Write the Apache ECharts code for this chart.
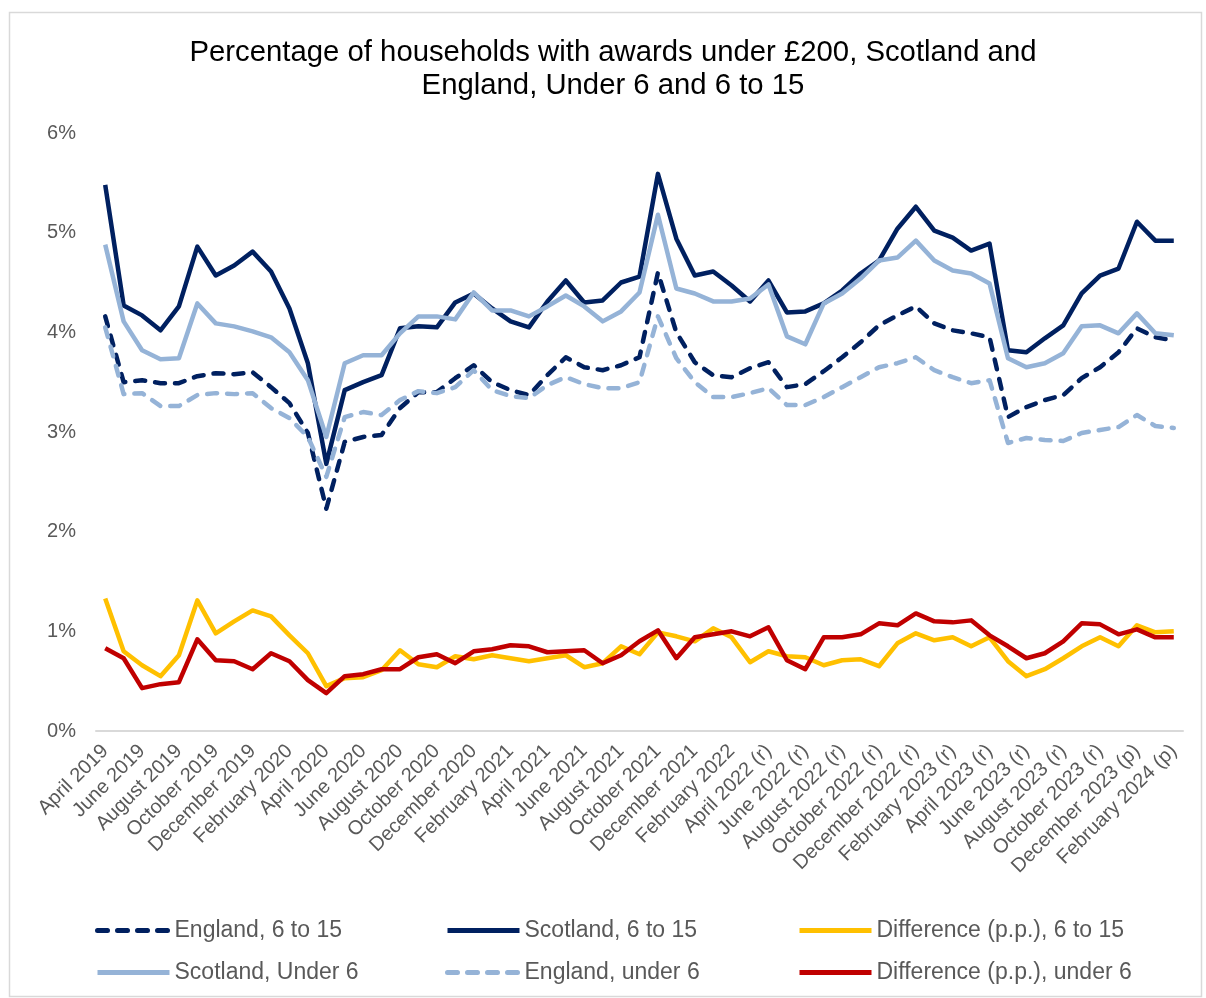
<!DOCTYPE html>
<html>
<head>
<meta charset="utf-8">
<script src="https://cdn.jsdelivr.net/npm/echarts@6/dist/echarts.min.js"></script>
<style>
html,body{margin:0;padding:0;background:#fff;}
#chart{width:1206px;height:998px;}
</style>
</head>
<body>
<div id="chart"></div>
<script>
var categories = [
 'April 2019','May 2019','June 2019','July 2019','August 2019','September 2019','October 2019','November 2019','December 2019','January 2020','February 2020','March 2020',
 'April 2020','May 2020','June 2020','July 2020','August 2020','September 2020','October 2020','November 2020','December 2020','January 2021','February 2021','March 2021',
 'April 2021','May 2021','June 2021','July 2021','August 2021','September 2021','October 2021','November 2021','December 2021','January 2022','February 2022','March 2022',
 'April 2022 (r)','May 2022 (r)','June 2022 (r)','July 2022 (r)','August 2022 (r)','September 2022 (r)','October 2022 (r)','November 2022 (r)','December 2022 (r)','January 2023 (r)','February 2023 (r)','March 2023 (r)',
 'April 2023 (r)','May 2023 (r)','June 2023 (r)','July 2023 (r)','August 2023 (r)','September 2023 (r)','October 2023 (r)','November 2023 (r)','December 2023 (p)','January 2024 (p)','February 2024 (p)'
];
var england615 = [4.16,3.50,3.52,3.49,3.49,3.56,3.59,3.58,3.60,3.45,3.29,2.99,2.23,2.90,2.95,
 2.97,3.24,3.40,3.40,3.54,3.67,3.50,3.42,3.37,3.57,3.75,3.65,3.62,3.67,3.75,4.60,
 4.00,3.70,3.57,3.55,3.64,3.70,3.45,3.48,3.61,3.75,3.90,4.07,4.17,4.26,
 4.09,4.02,3.99,3.95,3.15,3.25,3.32,3.37,3.54,3.65,3.80,4.04,3.95,3.92];
var scotland615 = [5.48,4.27,4.17,4.02,4.26,4.86,4.57,4.67,4.81,4.61,4.24,3.69,2.68,3.42,3.50,
 3.57,4.04,4.06,4.05,4.30,4.39,4.24,4.11,4.05,4.31,4.52,4.30,4.32,4.50,4.56,5.59,
 4.94,4.57,4.61,4.47,4.31,4.52,4.20,4.21,4.29,4.42,4.59,4.72,5.04,5.26,
 5.02,4.95,4.82,4.89,3.82,3.80,3.94,4.07,4.39,4.57,4.64,5.11,4.92,4.92];
var diff615 = [1.33,0.80,0.66,0.55,0.76,1.31,0.98,1.10,1.21,1.15,0.96,0.78,0.45,0.53,0.54,
 0.61,0.81,0.67,0.64,0.75,0.72,0.76,0.73,0.70,0.73,0.76,0.64,0.68,0.85,0.77,0.99,
 0.95,0.90,1.03,0.94,0.69,0.80,0.75,0.74,0.66,0.71,0.72,0.65,0.88,0.98,
 0.91,0.94,0.85,0.94,0.70,0.55,0.62,0.73,0.85,0.94,0.85,1.06,0.99,1.00];
var scotlandU6 = [4.88,4.11,3.82,3.73,3.74,4.29,4.09,4.06,4.01,3.95,3.80,3.52,2.95,3.69,3.77,
 3.77,3.99,4.16,4.16,4.13,4.40,4.22,4.22,4.16,4.26,4.37,4.26,4.11,4.21,4.40,5.18,
 4.44,4.39,4.31,4.31,4.34,4.48,3.96,3.88,4.29,4.39,4.54,4.72,4.75,4.92,
 4.72,4.62,4.59,4.49,3.74,3.65,3.69,3.79,4.06,4.07,3.99,4.19,3.99,3.97];
var englandU6 = [4.05,3.38,3.39,3.26,3.26,3.37,3.39,3.38,3.39,3.24,3.14,2.95,2.55,3.15,3.20,
 3.17,3.32,3.41,3.39,3.45,3.62,3.42,3.36,3.34,3.47,3.55,3.48,3.44,3.44,3.50,4.16,
 3.74,3.50,3.35,3.35,3.39,3.44,3.27,3.27,3.35,3.45,3.55,3.65,3.69,3.75,
 3.62,3.55,3.49,3.52,2.89,2.94,2.92,2.91,2.99,3.02,3.05,3.17,3.06,3.04];
var diffU6 = [0.83,0.73,0.43,0.47,0.49,0.92,0.71,0.70,0.62,0.78,0.70,0.51,0.38,0.55,0.57,
 0.62,0.62,0.74,0.77,0.68,0.80,0.82,0.86,0.85,0.79,0.80,0.81,0.68,0.76,0.90,1.01,
 0.73,0.94,0.97,1.00,0.95,1.04,0.71,0.62,0.94,0.94,0.97,1.08,1.06,1.18,
 1.10,1.09,1.11,0.96,0.85,0.73,0.78,0.90,1.08,1.07,0.97,1.02,0.94,0.94];
var yTicks = [0,1,2,3,4,5,6];

var NAVY = '#002060', LIGHT = '#95B3D7', YELLOW = '#FFC000', RED = '#C00000';
var FONT = '"Liberation Sans", Arial, sans-serif';
var DASH = [10, 10];

function mk(name, data, color, dashed) {
  return {
    name: name, type: 'line', data: data, symbol: 'none', smooth: false,
    lineStyle: { color: color, width: 4.5, type: dashed ? DASH : 'solid', cap: dashed ? 'round' : 'butt', join: 'round' },
    itemStyle: { color: color },
    emphasis: { disabled: true }, animation: false
  };
}
var seriesList = [
  mk('England, 6 to 15', england615, NAVY, true),
  mk('Scotland, 6 to 15', scotland615, NAVY, false),
  mk('Difference (p.p.), 6 to 15', diff615, YELLOW, false),
  mk('Scotland, Under 6', scotlandU6, LIGHT, false),
  mk('England, under 6', englandU6, LIGHT, true),
  mk('Difference (p.p.), under 6', diffU6, RED, false)
];
var legendPos = [[95,919],[445,919],[797,919],[95,961],[445,961],[797,961]];
var legends = seriesList.map(function(s, i){
  return {
    data: [s.name], left: legendPos[i][0], top: legendPos[i][1],
    itemWidth: 72, itemHeight: 14, itemGap: 0, padding: 0,
    itemStyle: { opacity: 0 },
    lineStyle: { width: 5 },
    textStyle: { fontFamily: FONT, fontSize: 23, color: '#595959', padding: [0,0,0,0] },
    selectedMode: false
  };
});

var chart = echarts.init(document.getElementById('chart'), null, { renderer: 'canvas' });
chart.setOption({
  backgroundColor: '#fff',
  animation: false,
  title: {
    text: 'Percentage of households with awards under £200, Scotland and\nEngland, Under 6 and 6 to 15',
    left: 608, top: 31, textAlign: 'center',
    textStyle: { fontFamily: FONT, fontSize: 29.3, fontWeight: 'normal', color: '#000', lineHeight: 33 }
  },
  graphic: [{
    type: 'rect', left: 7, top: 10, silent: true,
    shape: { width: 1192, height: 984 },
    style: { fill: 'none', stroke: '#d9d9d9', lineWidth: 1.5 }
  }],
  legend: legends,
  grid: { left: 96, right: 23, top: 133, bottom: 267, containLabel: false },
  xAxis: {
    type: 'category', data: categories, boundaryGap: true,
    axisLine: { show: true, lineStyle: { color: '#d9d9d9', width: 2 } },
    axisTick: { show: false },
    axisLabel: { interval: 1, rotate: 45, margin: 17, fontFamily: FONT, fontSize: 20, color: '#595959' }
  },
  yAxis: {
    type: 'value', min: yTicks[0], max: yTicks[yTicks.length-1], interval: 1,
    axisLine: { show: false }, axisTick: { show: false },
    splitLine: { show: false },
    axisLabel: { formatter: '{value}%', margin: 20, fontFamily: FONT, fontSize: 20, color: '#595959' }
  },
  series: seriesList
});
</script>
</body>
</html>
